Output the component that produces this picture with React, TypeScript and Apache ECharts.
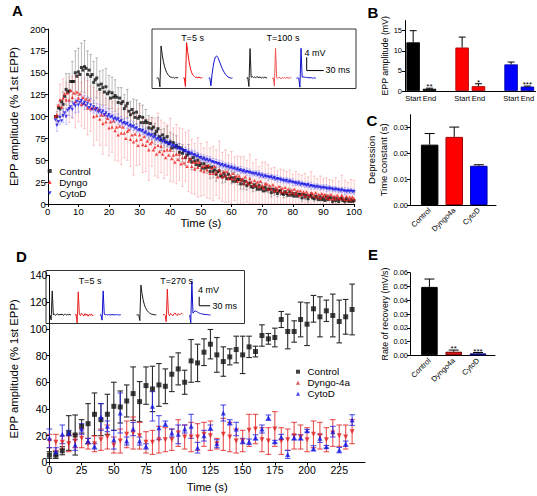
import React, { useEffect, useRef } from "react";
import * as echarts from "echarts";

const FONT = "'Liberation Sans', Arial, Helvetica, sans-serif";

// ---------------- Panel A: EPP amplitude during train (0.5 s sampling from 2.5 s)
const aT0 = 2.5;
const aDt = 0.5;
const aControl = [
  100, 100, 110, 109, 117, 114, 123, 131, 128, 129,
  140, 140, 140, 150, 146, 151, 148, 156, 153, 157,
  155, 148, 153, 146, 148, 139, 142, 144, 136, 131,
  137, 133, 128, 134, 126, 128, 121, 127, 122, 124,
  122, 116, 121, 115, 117, 109, 112, 115, 106, 102,
  108, 104, 99, 105, 98, 100, 93, 99, 93, 95,
  93, 87, 92, 86, 88, 80, 83, 86, 77, 73,
  79, 75, 71, 77, 69, 71, 64, 70, 65, 67,
  65, 59, 64, 58, 61, 53, 56, 58, 51, 48,
  53, 49, 45, 50, 44, 46, 41, 46, 41, 43,
  42, 37, 42, 37, 39, 34, 37, 38, 32, 31,
  35, 32, 29, 34, 29, 30, 26, 30, 26, 28,
  28, 23, 27, 23, 26, 21, 23, 24, 20, 19,
  22, 20, 17, 21, 17, 19, 15, 19, 16, 17,
  17, 13, 17, 14, 16, 12, 15, 15, 12, 11,
  14, 12, 10, 14, 10, 12, 9, 12, 9, 11,
  11, 7, 11, 8, 10, 6, 9, 10, 7, 6,
  9, 7, 5, 8, 5, 7, 4, 8, 5, 7,
  7, 3, 7, 4, 6, 3, 6, 6, 4, 3,
  6, 4, 3, 5, 3, 4,
];
const aDyngo = [
  100, 102, 113, 119, 111, 121, 126, 119, 127, 119,
  130, 122, 127, 117, 128, 121, 126, 114, 122, 115,
  120, 110, 119, 109, 110, 100, 110, 101, 108, 97,
  102, 92, 102, 94, 98, 87, 94, 88, 95, 84,
  88, 79, 89, 81, 88, 81, 75, 83, 85, 74,
  79, 71, 80, 73, 67, 79, 74, 68, 77, 67,
  72, 62, 69, 71, 62, 65, 57, 67, 60, 66,
  57, 61, 53, 62, 56, 62, 52, 56, 48, 57,
  51, 57, 46, 53, 47, 54, 43, 49, 52, 43,
  48, 40, 48, 42, 48, 39, 43, 37, 44, 39,
  44, 35, 41, 35, 43, 36, 31, 39, 35, 31,
  37, 32, 37, 29, 33, 29, 35, 29, 32, 26,
  32, 27, 29, 24, 31, 26, 23, 29, 25, 21,
  27, 22, 25, 20, 26, 21, 18, 23, 23, 17,
  21, 17, 22, 15, 19, 16, 20, 14, 18, 14,
  19, 14, 17, 12, 16, 13, 17, 12, 15, 10,
  15, 11, 14, 9, 14, 11, 9, 13, 12, 9,
  13, 8, 11, 7, 12, 9, 11, 7, 10, 6,
  11, 6, 9, 6, 10, 7, 6, 10, 7, 5,
  9, 5, 8, 5, 8, 6,
];
const aCytoD = [
  96, 90, 94, 99, 95, 101, 104, 100, 107, 109,
  111, 108, 114, 112, 117, 113, 116, 118, 114, 116,
  112, 115, 110, 113, 108, 111, 107, 109, 105, 107,
  104, 106, 102, 104, 100, 102, 99, 100, 97, 98,
  96, 97, 94, 95, 92, 93, 91, 92, 89, 90,
  88, 89, 86, 87, 84, 85, 83, 84, 81, 82,
  79, 80, 78, 79, 76, 77, 74, 75, 73, 74,
  71, 72, 70, 70, 68, 69, 66, 67, 65, 66,
  63, 64, 62, 62, 60, 61, 59, 59, 57, 58,
  56, 56, 54, 55, 53, 53, 51, 52, 50, 51,
  49, 50, 48, 48, 47, 47, 46, 46, 44, 45,
  43, 44, 42, 43, 41, 42, 40, 41, 39, 40,
  38, 39, 37, 38, 36, 37, 36, 36, 35, 35,
  34, 35, 33, 34, 32, 33, 31, 32, 31, 31,
  30, 31, 29, 30, 28, 29, 28, 28, 27, 27,
  26, 27, 25, 26, 25, 25, 24, 24, 23, 24,
  22, 23, 22, 22, 21, 22, 20, 21, 20, 20,
  19, 20, 19, 19, 18, 19, 18, 18, 17, 18,
  17, 17, 16, 17, 16, 16, 15, 16, 15, 15,
  14, 15, 14, 15, 14, 14,
];
// SEM half-widths at whole seconds 3..100
const aErrT0 = 3;
const aControlErr = [
  6, 10, 14, 18, 20, 23, 25, 27, 28, 30,
  27, 25, 24, 23, 21, 20, 21, 19, 18, 18,
  17, 18, 16, 16, 15, 16, 14, 15, 14, 13,
  14, 13, 12, 13, 12, 11, 12, 11, 10, 11,
  10, 10, 9, 10, 9, 9, 8, 9, 8, 8,
  8, 7, 8, 7, 7, 7, 6, 7, 6, 6,
  6, 6, 5, 6, 5, 5, 5, 5, 5, 4,
  5, 4, 4, 5, 4, 4, 4, 4, 3, 4,
  4, 3, 4, 3, 3, 3, 3, 3, 3, 3,
  3, 3, 2, 3, 3, 2, 3, 2,
];
const aDyngoErr = [
  12, 18, 22, 20, 26, 24, 30, 27, 25, 29,
  31, 26, 33, 28, 30, 35, 27, 32, 29, 34,
  30, 36, 28, 33, 31, 38, 29, 34, 32, 30,
  35, 28, 33, 37, 30, 32, 29, 36, 31, 34,
  30, 33, 28, 35, 31, 29, 34, 30, 27, 32,
  29, 31, 26, 33, 28, 30, 27, 31, 25, 29,
  27, 30, 24, 28, 26, 29, 23, 27, 25, 28,
  24, 27, 22, 26, 25, 23, 27, 21, 25, 24,
  22, 26, 20, 24, 23, 21, 25, 20, 23, 22,
  21, 24, 19, 23, 22, 20, 23, 21,
];
const aCytoDErr = [
  7, 8, 8, 9, 8, 9, 8, 8, 7, 8,
  7, 7, 7, 6, 7, 6, 6, 6, 6, 5,
  6, 5, 5, 6, 5, 5, 5, 5, 5, 5,
  5, 5, 5, 4, 5, 5, 4, 5, 4, 4,
  5, 4, 4, 4, 4, 5, 4, 4, 4, 4,
  4, 4, 4, 4, 4, 3, 4, 4, 4, 3,
  4, 3, 4, 4, 3, 3, 4, 3, 3, 4,
  3, 3, 4, 3, 3, 3, 3, 4, 3, 3,
  3, 3, 3, 4, 3, 3, 3, 3, 4, 3,
  3, 3, 3, 3, 4, 3, 3, 3,
];

// ---------------- Panel B
const bGroups = ["Control", "Dyngo-4a", "CytoD"];
const bLabels = ["Start", "End"];
const bStart = [12.1, 10.8, 6.6];
const bStartErr = [2.9, 2.6, 0.6];
const bEnd = [0.55, 1.2, 1.1];
const bEndErr = [0.15, 0.6, 0.12];
const bSig = ["**", "*", "***"];

// ---------------- Panel C
const cCategories = ["Control", "Dyngo4a", "CytoD"];
const cValues = [0.0234, 0.0264, 0.0152];
const cErrors = [0.0043, 0.0038, 0.0004];

// ---------------- Panel D: recovery (every 5 s)
const dStep = 5;
const dControl = [
  5.5, 5.5, 8.7, 22, 20.5, 27, 29, 36, 32, 36,
  42, 41.5, 46, 51.5, 45.5, 57.5, 55, 58, 57, 66,
  70, 60, 76, 74.5, 82.5, 88.5, 80.5, 75.5, 79, 84.5,
  80.5, 86.5, 83, 95, 92.5, 93.5, 107, 98, 98, 107,
  103.5, 115, 109, 113.5, 110, 105.5, 109, 114.5,
];
const dControlErr = [
  2.5, 2.5, 3, 13, 15, 5, 15, 16, 12, 15,
  18, 12, 12, 20, 15, 14, 17, 16, 13, 13,
  12, 9, 16, 14, 10, 11, 13, 11, 6, 10,
  14, 8, 4, 8, 4, 7, 6, 13, 8, 13,
  16, 10, 15, 8, 16, 16, 13, 19,
];
const dDyngo = [
  16, 15, 15, 14, 16, 18, 14, 14, 17, 19,
  13, 16, 21, 22, 20, 15, 15, 17, 17, 17,
  22, 19, 19, 19, 21, 20, 14, 21, 19, 16,
  16, 24, 25, 17, 16, 25, 16, 17, 20, 19,
  17, 21, 20, 17, 22, 20, 19, 23,
];
const dDyngoErr = [
  5, 6, 5, 6, 5, 7, 4, 6, 8, 9,
  6, 9, 10, 12, 10, 8, 9, 10, 9, 8,
  10, 9, 11, 10, 9, 11, 4, 12, 11, 9,
  8, 12, 11, 9, 10, 13, 10, 8, 10, 9,
  9, 10, 10, 9, 10, 8, 9, 9,
];
const dCytoD = [
  18, 8, 21, 22, 13, 25, 16, 12, 34, 27,
  17, 37, 16, 25, 16, 12, 42, 26, 29, 22,
  21, 25, 27, 11, 20, 26, 14, 37, 30, 25,
  16, 15.5, 18.7, 25, 33.5, 15.5, 19, 6, 18.7, 18.7,
  23.7, 10.5, 18, 11.7, 23, 9.2, 14, 31.7,
];
const dCytoDErr = [
  7, 3, 7, 2, 4, 4, 2, 2, 10, 4,
  7, 15, 3, 5, 3, 2, 11, 9, 2, 3,
  7, 3, 9, 4, 4, 2, 3, 6, 2, 5,
  2, 2, 2, 3, 2, 1, 2, 3, 2, 2,
  1, 2, 3, 1, 4, 2, 2, 4,
];

// ---------------- Panel E
const eCategories = ["Control", "Dyngo4a", "CytoD"];
const eValues = [0.0497, 0.0026, 0.0014];
const eErrors = [0.0057, 0.0012, 0.0006];
const eSig = ["", "**", "***"];

// ---------------- Inset example traces (mV samples)
const trAdt = 2; // ms
const trA = {
  ctrl5: [0, 0.1, -0.1, -2.6, 9.7, 7.2, 5.1, 3.6, 2.5, 1.7, 1.1, 0.7, 0.4, 0.3, 0.1, 0.3, 0.0, 0.2, 0.1, 0.2],
  dyn5: [0, 0.1, -2.5, 10.7, 8.0, 5.4, 3.5, 2.2, 1.3, 0.8, 0.5, 0.2, 0.3, 0.1, 0.4, 0.0, 0.2, 0.1],
  cyt5: [0, 0.1, -2.3, 1.2, 3.6, 5.4, 6.4, 6.7, 6.3, 5.5, 4.6, 3.7, 2.9, 2.2, 1.6, 1.1, 0.7, 0.4, 0.2, 0.1, 0.0, 0.1],
  ctrl100: [0, 0.2, -2.5, 8.9, 0.3, 0.5, 0.2, 0.4, 0.1, 0.5, 0.3, 0.2, 0.4, 0.0, 0.3, 0.1, 0.3, 0.2, 0.0],
  dyn100: [0, 0.1, -2.4, 9.0, 0.2, -0.1, 0.3, 0.1, -0.2, 0.2, 0.0, 0.3, -0.1, 0.2, 0.1, 0.0, 0.2, 0.1],
  cyt100: [0, 0.1, 0.0, -2.7, 9.0, 0.3, 0.4, 0.3, 0.2, 0.3, 0.1, 0.2, 0.1, 0.2, 0.0, 0.1, 0.1, 0.0],
};
const trDdt = 3; // ms
const trD = {
  ctrl5: [0, -2.2, 10.7, 0.1, 0.4, -0.2, 0.3, 0.5, -0.1, 0.3, 0.1, 0.4, -0.2, 0.2, 0.3, 0.0, 0.2, 0.1, 0.3, 0.0],
  dyn5: [0, 0.3, -3.6, 10.3, 0.5, -0.3, 0.8, 0.2, -0.5, 0.6, -0.2, 0.4, -0.6, 0.3, -0.2, 0.5, -0.4, 0.1],
  cyt5: [0, 0.1, -2.3, 10.7, 0.3, 0.1, 0.2, 0.0, 0.2, 0.1, 0.0, 0.2, 0.1, 0.0, 0.1, 0.2, 0.0, 0.1, 0.0, 0.1],
  ctrl270: [0, 0.1, 0.0, -2.5, 13.3, 9.5, 6.8, 4.8, 3.4, 2.4, 1.7, 1.2, 0.8, 0.5, 0.3, 0.2, 0.1, 0.1, 0.0],
  dyn270: [0, 0.3, -0.2, -3.0, 11.5, 0.6, -0.3, 0.7, 0.1, -0.4, 0.5, 0.9, 0.2, -0.3, 0.6, 0.1, 0.4, 0.8, 0.3],
  cyt270: [0, -3.5, 14.9, 0.8, 1.5, 1.8, 1.6, 1.3, 1.0, 0.8, 0.6, 0.5, 0.4, 0.3, 0.2, 0.2, 0.1, 0.1, 0.0, 0.0],
};
const scaleBarMV = 4;
const scaleBarMS = 30;

// ---------------- styles / layout
const BLACK = "#000000";
const RED = "#ee1c1c";
const BLUE = "#1414e6";

function errSeries(xi: number, yi: number, data: number[][], color: string, cap: number, lw: number, opts: any = {}) {
  const { upOnly = false, sig = null, sigSize = 8, clip = true, z = 2 } = opts;
  return {
    type: "custom",
    xAxisIndex: xi,
    yAxisIndex: yi,
    silent: true,
    clip,
    z,
    encode: { x: 0, y: [1, 2] },
    data,
    renderItem: (params: any, api: any) => {
      const x = api.value(0);
      const lo = api.value(1);
      const hi = api.value(2);
      const a = api.coord([x, hi]);
      const b = api.coord([x, lo]);
      const st = { stroke: color, lineWidth: lw };
      const ch: any[] = [
        { type: "line", shape: { x1: a[0], y1: a[1], x2: b[0], y2: b[1] }, style: st },
        { type: "line", shape: { x1: a[0] - cap, y1: a[1], x2: a[0] + cap, y2: a[1] }, style: st },
      ];
      if (!upOnly) ch.push({ type: "line", shape: { x1: b[0] - cap, y1: b[1], x2: b[0] + cap, y2: b[1] }, style: st });
      const s = sig ? sig[params.dataIndex] : "";
      if (s) {
        ch.push({
          type: "text",
          x: a[0],
          y: a[1] + 2.5,
          style: {
            text: s, fill: "#000", fontSize: sigSize, fontFamily: FONT,
            align: "center", verticalAlign: "bottom", textAlign: "center", textVerticalAlign: "bottom",
          },
        });
      }
      return { type: "group", children: ch };
    },
  };
}

function traceSeries(xi: number, yi: number, samples: number[], start: number, dt: number, color: string) {
  return {
    type: "line", xAxisIndex: xi, yAxisIndex: yi, silent: true, symbol: "none", z: 4,
    lineStyle: { color, width: 1 },
    data: samples.map((v, i) => [start + i * dt, v]),
  };
}

function txt(text: string, x: number, y: number, size: number, align = "center", bold = false) {
  return {
    type: "text", x, y, z: 10,
    style: {
      text, fill: "#000", fontSize: size, fontFamily: FONT, fontWeight: bold ? "bold" : "normal",
      align, verticalAlign: "middle", textAlign: align, textVerticalAlign: "middle",
    },
  };
}

function axisBase(fontSize: number, nameSize: number) {
  return {
    axisLine: { show: true, onZero: false, lineStyle: { color: "#000", width: 1 } },
    axisTick: { show: true, length: 3, lineStyle: { color: "#000", width: 1 } },
    axisLabel: { color: "#000", fontFamily: FONT, fontSize, margin: 2 },
    splitLine: { show: false },
    nameTextStyle: { color: "#000", fontFamily: FONT, fontSize: nameSize },
    nameLocation: "middle",
  };
}

function merge(base: any, extra: any) {
  const out: any = { ...base, ...extra };
  ["axisLine", "axisTick", "axisLabel", "nameTextStyle"].forEach((k) => {
    if (extra[k]) out[k] = { ...base[k], ...extra[k] };
  });
  return out;
}

function buildOption() {
  const aTime = (i: number) => aT0 + aDt * i;
  const aErrData = (mean: number[], err: number[]) =>
    err.map((e, k) => {
      const t = aErrT0 + k;
      const m = mean[Math.round((t - aT0) / aDt)];
      return [t, Math.max(0, m - e), m + e];
    });
  const dErrData = (mean: number[], err: number[]) => mean.map((m, i) => [i * dStep, Math.max(0, m - err[i]), m + err[i]]);

  // Panel B slots: Start End | gap | Start End | gap | Start End
  const bCats: string[] = [];
  const bBars: any[] = [];
  const bErr: number[][] = [];
  const bErrSig: string[] = [];
  const groupColor = [BLACK, "#ff0000", "#0000ff"];
  const groupBorder = [BLACK, "#a00000", "#0000a0"];
  bGroups.forEach((g, gi) => {
    if (gi > 0) { bCats.push(""); bBars.push("-"); }
    [bStart[gi], bEnd[gi]].forEach((v, k) => {
      bCats.push(bLabels[k]);
      const idx = bCats.length - 1;
      bBars.push({ value: v, itemStyle: { color: groupColor[gi], borderColor: groupBorder[gi], borderWidth: 0.8 } });
      const e = k === 0 ? bStartErr[gi] : bEndErr[gi];
      bErr.push([idx, v, v + e]);
      bErrSig.push(k === 1 ? bSig[gi] : "");
    });
  });

  const base = axisBase(9.5, 11.3);
  const baseD = axisBase(10.5, 11.3);
  const small = axisBase(7.5, 8.8);

  const dTicks = [0, 25, 50, 75, 100, 125, 150, 175, 200, 225];

  const xAxis: any[] = [
    merge(base, { gridIndex: 0, type: "value", min: 0, max: 100, interval: 10, name: "Time (s)", nameGap: 13 }),
    { gridIndex: 1, type: "value", min: 0, max: 360, show: false },
    merge(small, {
      gridIndex: 2, type: "category", data: bCats,
      axisTick: { show: false }, axisLabel: { interval: 0, margin: 3 },
    }),
    merge(small, {
      gridIndex: 3, type: "value", min: -0.8, max: 2.7,
      axisTick: { show: false },
      axisLabel: { customValues: [0, 1, 2], formatter: (v: number) => cCategories[Math.round(v)], rotate: 45, margin: 4 },
    }),
    merge(baseD, {
      gridIndex: 4, type: "value", min: 0, max: 245, name: "Time (s)", nameGap: 19,
      axisLabel: { customValues: dTicks, margin: 2 }, axisTick: { customValues: dTicks },
    }),
    { gridIndex: 5, type: "value", min: 0, max: 541.6, show: false },
    merge(small, {
      gridIndex: 6, type: "value", min: -0.8, max: 2.7,
      axisTick: { show: false },
      axisLabel: { customValues: [0, 1, 2], formatter: (v: number) => eCategories[Math.round(v)], rotate: 45, margin: 4 },
    }),
  ];

  const yAxis: any[] = [
    merge(base, { gridIndex: 0, type: "value", min: 0, max: 200, interval: 25, name: "EPP amplitude (% 1st EPP)", nameGap: 21 }),
    { gridIndex: 1, type: "value", min: -3.1, max: 14.8, show: false },
    merge(small, {
      gridIndex: 2, type: "value", min: 0, max: 17.5, name: "EPP amplitude (mV)", nameGap: 15,
      axisLabel: { customValues: [0, 5, 10, 15], margin: 3 }, axisTick: { customValues: [0, 5, 10, 15] },
    }),
    merge(small, {
      gridIndex: 3, type: "value", min: 0, max: 0.035, name: "Depression\nTime constant (s)", nameGap: 19,
      nameTextStyle: { fontSize: 9.5, lineHeight: 12 },
      axisLabel: { customValues: [0, 0.01, 0.02, 0.03], formatter: (v: number) => v.toFixed(2), margin: 2 },
      axisTick: { customValues: [0, 0.01, 0.02, 0.03] },
    }),
    merge(baseD, { gridIndex: 4, type: "value", min: 0, max: 140, interval: 20, name: "EPP amplitude (% 1st EPP)", nameGap: 21 }),
    { gridIndex: 5, type: "value", min: -3.8, max: 19.8, show: false },
    merge(small, {
      gridIndex: 6, type: "value", min: 0, max: 0.06, name: "Rate of recovery (mV/s)", nameGap: 20,
      axisLabel: { customValues: [0, 0.01, 0.02, 0.03, 0.04, 0.05, 0.06], formatter: (v: number) => v.toFixed(2), margin: 2 },
      axisTick: { customValues: [0, 0.01, 0.02, 0.03, 0.04, 0.05, 0.06] },
    }),
  ];

  const insetGrid = { show: true, borderColor: "#333", borderWidth: 1, backgroundColor: "#fff" };
  const grid = [
    { left: 38, top: 29, width: 316, height: 175 },
    { left: 152, top: 29, width: 204, height: 59.5, ...insetGrid },
    { left: 405, top: 20.6, width: 132, height: 70.4 },
    { left: 410, top: 114.7, width: 86, height: 90.3 },
    { left: 38.3, top: 275.4, width: 326.7, height: 187 },
    { left: 46, top: 270.5, width: 198.5, height: 53, ...insetGrid },
    { left: 410, top: 272.7, width: 85, height: 82.6 },
  ];

  const series: any[] = [];
  // ---- A
  series.push(errSeries(0, 0, aErrData(aControl, aControlErr), "rgba(90,90,90,0.5)", 1.3, 0.8));
  series.push(errSeries(0, 0, aErrData(aDyngo, aDyngoErr), "rgba(245,100,100,0.42)", 1.3, 0.8));
  series.push(errSeries(0, 0, aErrData(aCytoD, aCytoDErr), "rgba(110,110,255,0.5)", 1.3, 0.8));
  series.push({ type: "scatter", name: "Control", xAxisIndex: 0, yAxisIndex: 0, symbol: "rect", symbolSize: 3, z: 3,
    itemStyle: { color: "#111" }, data: aControl.map((v, i) => [aTime(i), v]) });
  series.push({ type: "scatter", name: "Dyngo", xAxisIndex: 0, yAxisIndex: 0, symbol: "triangle", symbolSize: 3.4, z: 3,
    itemStyle: { color: RED }, data: aDyngo.map((v, i) => [aTime(i), v]) });
  series.push({ type: "scatter", name: "CytoD", xAxisIndex: 0, yAxisIndex: 0, symbol: "triangle", symbolRotate: 180, symbolSize: 3.4, z: 3,
    itemStyle: { color: BLUE }, data: aCytoD.map((v, i) => [aTime(i), v]) });

  // ---- A inset
  const aStarts = { ctrl5: 8, dyn5: 55, cyt5: 100, ctrl100: 167, dyn100: 212, cyt100: 255 };
  series.push(traceSeries(1, 1, trA.ctrl5, aStarts.ctrl5, trAdt, "#1a1a1a"));
  series.push(traceSeries(1, 1, trA.dyn5, aStarts.dyn5, trAdt, "#ee1111"));
  series.push(traceSeries(1, 1, trA.cyt5, aStarts.cyt5, trAdt, "#1010cc"));
  series.push(traceSeries(1, 1, trA.ctrl100, aStarts.ctrl100, trAdt, "#1a1a1a"));
  series.push(traceSeries(1, 1, trA.dyn100, aStarts.dyn100, trAdt, "#f25555"));
  series.push(traceSeries(1, 1, trA.cyt100, aStarts.cyt100, trAdt, "#1010cc"));
  const aBar = { x: 273, y: 2.3 };
  series.push({ type: "line", xAxisIndex: 1, yAxisIndex: 1, symbol: "none", silent: true, z: 4,
    lineStyle: { color: "#000", width: 1 },
    data: [[aBar.x, aBar.y + scaleBarMV], [aBar.x, aBar.y], [aBar.x + scaleBarMS, aBar.y]] });

  // ---- B
  series.push({ type: "bar", xAxisIndex: 2, yAxisIndex: 2, barWidth: 13.5, data: bBars, silent: true });
  series.push(errSeries(2, 2, bErr, "#000", 3.5, 1, { upOnly: true, sig: bErrSig, sigSize: 8, clip: false, z: 3 }));

  // ---- C
  series.push({ type: "bar", xAxisIndex: 3, yAxisIndex: 3, barWidth: 17.5, silent: true,
    data: cValues.map((v, i) => ({ value: [i, v], itemStyle: { color: groupColor[i], borderColor: groupBorder[i], borderWidth: 1 } })) });
  series.push(errSeries(3, 3, cValues.map((v, i) => [i, v, v + cErrors[i]]), "#000", 5, 1, { upOnly: true, clip: false, z: 3 }));

  // ---- D
  series.push(errSeries(4, 4, dErrData(dControl, dControlErr), "#2a2a2a", 2.8, 1.1, { clip: false }));
  series.push(errSeries(4, 4, dErrData(dDyngo, dDyngoErr), "rgba(228,40,40,0.8)", 2.8, 1.1, { clip: false }));
  series.push(errSeries(4, 4, dErrData(dCytoD, dCytoDErr), "rgba(40,40,228,0.8)", 2.8, 1.1, { clip: false }));
  series.push({ type: "scatter", name: "Control", xAxisIndex: 4, yAxisIndex: 4, symbol: "rect", symbolSize: 5, z: 3,
    itemStyle: { color: "#111" }, data: dControl.map((v, i) => [i * dStep, v]) });
  series.push({ type: "scatter", name: "Dyngo-4a", xAxisIndex: 4, yAxisIndex: 4, symbol: "triangle", symbolRotate: 180, symbolSize: 5, z: 3,
    itemStyle: { color: "#e02020" }, data: dDyngo.map((v, i) => [i * dStep, v]) });
  series.push({ type: "scatter", name: "CytoD", xAxisIndex: 4, yAxisIndex: 4, symbol: "triangle", symbolSize: 5, z: 3,
    itemStyle: { color: BLUE }, data: dCytoD.map((v, i) => [i * dStep, v]) });

  // ---- D inset
  const dStarts = { ctrl5: 11, dyn5: 79, cyt5: 147, ctrl270: 247, dyn270: 319, cyt270: 392 };
  series.push(traceSeries(5, 5, trD.ctrl5, dStarts.ctrl5, trDdt, "#1a1a1a"));
  series.push(traceSeries(5, 5, trD.dyn5, dStarts.dyn5, trDdt, "#e82020"));
  series.push(traceSeries(5, 5, trD.cyt5, dStarts.cyt5, trDdt, "#1010cc"));
  series.push(traceSeries(5, 5, trD.ctrl270, dStarts.ctrl270, trDdt, "#1a1a1a"));
  series.push(traceSeries(5, 5, trD.dyn270, dStarts.dyn270, trDdt, "#e82020"));
  series.push(traceSeries(5, 5, trD.cyt270, dStarts.cyt270, trDdt, "#1010cc"));
  const dBar = { x: 418, y: 4.1 };
  series.push({ type: "line", xAxisIndex: 5, yAxisIndex: 5, symbol: "none", silent: true, z: 4,
    lineStyle: { color: "#000", width: 1 },
    data: [[dBar.x, dBar.y + scaleBarMV], [dBar.x, dBar.y], [dBar.x + scaleBarMS, dBar.y]] });

  // ---- E
  const eColor = [BLACK, "#e81010", "#1a1ae0"];
  const eBorder = [BLACK, "#700000", "#000070"];
  series.push({ type: "bar", xAxisIndex: 6, yAxisIndex: 6, barWidth: 16.5, silent: true,
    data: eValues.map((v, i) => ({ value: [i, v], itemStyle: { color: eColor[i], borderColor: eBorder[i], borderWidth: 1 } })) });
  series.push(errSeries(6, 6, eValues.map((v, i) => [i, v, v + eErrors[i]]), "#000", 5, 1, { upOnly: true, sig: eSig, sigSize: 8, clip: false, z: 3 }));

  const legendBase = {
    orient: "vertical", padding: 0, itemWidth: 4, itemHeight: 4, itemGap: 0, selectedMode: false, symbolRotate: 0,
    itemStyle: { borderWidth: 0 },
    textStyle: { color: "#000", fontFamily: FONT, fontSize: 9.8, lineHeight: 11, padding: [0, 0, 0, 2.5] },
  };
  const legend = [
    { ...legendBase, left: 47.7, top: 165.5,
      data: [
        { name: "Control", icon: "rect" },
        { name: "Dyngo", icon: "triangle" },
        { name: "CytoD", icon: "path://M0,0L10,0L5,9Z" },
      ] },
    { ...legendBase, left: 296, top: 366.2,
      data: [
        { name: "Control", icon: "rect" },
        { name: "Dyngo-4a", icon: "triangle", itemStyle: { color: "#c83030" } },
        { name: "CytoD", icon: "triangle" },
      ] },
  ];

  const graphic = [
    txt("A", 17.5, 10.5, 15, "center", true),
    txt("B", 373, 12, 15, "center", true),
    txt("C", 372, 120, 15, "center", true),
    txt("D", 21.5, 256, 15, "center", true),
    txt("E", 373, 254.5, 15, "center", true),
    txt("T=5 s", 192.5, 38.3, 9),
    txt("T=100 s", 283, 38.3, 9),
    txt("4 mV", 304.5, 52.5, 9, "left"),
    txt("30 ms", 325.5, 70, 9, "left"),
    txt("T=5 s", 90, 280.5, 9),
    txt("T=270 s", 176.7, 280.5, 9),
    txt("4 mV", 198, 290, 9, "left"),
    txt("30 ms", 212.5, 305.5, 9, "left"),
  ];

  return {
    animation: false,
    backgroundColor: "#fff",
    textStyle: { fontFamily: FONT },
    grid,
    xAxis,
    yAxis,
    legend,
    series,
    graphic,
  };
}

export default function App() {
  const ref = useRef<HTMLDivElement>(null);
  useEffect(() => {
    const chart = echarts.init(ref.current as HTMLDivElement, null, { renderer: "svg" });
    chart.setOption(buildOption() as any);
    return () => chart.dispose();
  }, []);
  return (
    <div
      ref={ref}
      style={{ position: "fixed", left: 0, top: 0, width: 537, height: 496, background: "#fff" }}
    />
  );
}
